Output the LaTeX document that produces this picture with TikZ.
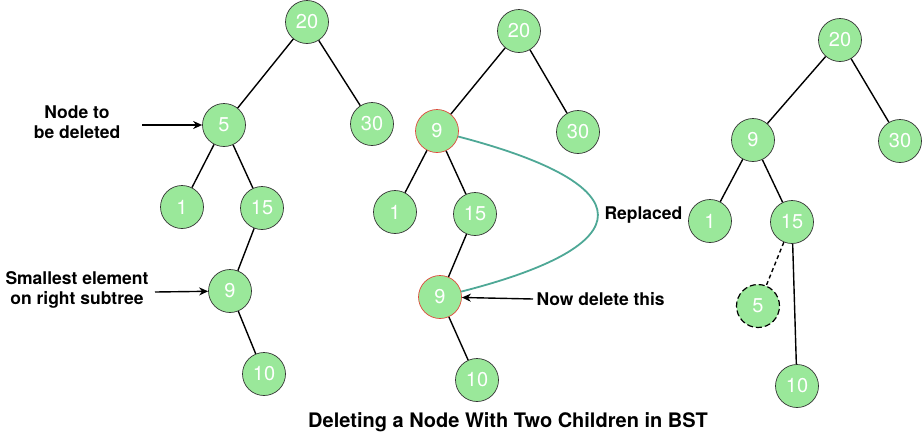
\documentclass[tikz,border=0pt]{standalone}
\usepackage{fontspec}
\setmainfont{TeX Gyre Heros}
\usepackage{tikz}
\definecolor{bstgreen}{RGB}{154,232,154}
\definecolor{bstred}{RGB}{222,72,58}
\definecolor{bstteal}{RGB}{78,168,150}
\tikzset{
    bstvertex/.style={circle, draw=black!80, fill=bstgreen, line width=0.7pt, minimum size=43pt, inner sep=0pt, text=white, font=\fontsize{20}{20}\selectfont},
    markedvertex/.style={bstvertex, draw=bstred},
    ghostvertex/.style={bstvertex, draw=black, dash pattern=on 6pt off 3pt, line width=1.2pt},
    bstedge/.style={line width=1.4pt},
    pointer/.style={line width=1.4pt, -{Stealth[length=9pt,width=8pt]}},
    bstlabel/.style={font=\fontsize{17.5}{20}\selectfont\bfseries, align=center}
}
\usetikzlibrary{arrows.meta,positioning,calc}

\begin{document}
\begin{tikzpicture}[x=1pt, y=-1pt]
    \useasboundingbox (0,0) rectangle (923,440);
    % first tree
    \node[bstvertex] (a20) at (307,22) {20};
    \node[bstvertex] (a5) at (224,125) {5};
    \node[bstvertex] (a30) at (372,124) {30};
    \node[bstvertex] (a1) at (182,207) {1};
    \node[bstvertex] (a15) at (262,208) {15};
    \node[bstvertex] (a9) at (230,291) {9};
    \node[bstvertex] (a10) at (264,374) {10};
    \draw[bstedge] (a20)--(a5)--(a1);
    \draw[bstedge] (a20)--(a30);
    \draw[bstedge] (a5)--(a15)--(a9)--(a10);
    \node[bstlabel] (lbdel) at (77,122) {Node to\\be deleted};
    \node[bstlabel] (lbmin) at (77,290) {Smallest element\\on right subtree};
    \draw[pointer] (142,125) -- (a5);
    \draw[pointer] (155,292) -- (a9);
    % second tree
    \node[bstvertex] (b20) at (519,31) {20};
    \node[markedvertex] (b9) at (437,131) {9};
    \node[bstvertex] (b30) at (578,132) {30};
    \node[bstvertex] (b1) at (395,212) {1};
    \node[bstvertex] (b15) at (475,214) {15};
    \node[markedvertex] (b9d) at (440,297) {9};
    \node[bstvertex] (b10) at (477,380) {10};
    \draw[bstedge] (b20)--(b9)--(b1);
    \draw[bstedge] (b20)--(b30);
    \draw[bstedge] (b9)--(b15)--(b9d)--(b10);
    \draw[bstteal, line width=1.8pt] (b9) .. controls (644,185) and (644,245) .. (b9d);
    \node[bstlabel, anchor=west] (lbrep) at (601,215) {Replaced};
    \node[bstlabel, anchor=west] (lbnow) at (533,299) {Now delete this};
    \draw[pointer] (lbnow.west) -- (b9d);
    % third tree
    \node[bstvertex] (c20) at (840,40) {20};
    \node[bstvertex] (c9) at (753,140) {9};
    \node[bstvertex] (c30) at (900,141) {30};
    \node[bstvertex] (c1) at (710,221) {1};
    \node[bstvertex] (c15) at (792,222) {15};
    \node[ghostvertex] (c5) at (758,306) {5};
    \node[bstvertex] (c10) at (797,386) {10};
    \draw[bstedge] (c20)--(c9)--(c1);
    \draw[bstedge] (c20)--(c30);
    \draw[bstedge] (c9)--(c15)--(c10);
    \draw[bstedge, dash pattern=on 4pt off 3pt] (c15)--(c5);
    % caption
    \node[font=\fontsize{20}{22}\selectfont\bfseries] (title) at (508,422) {Deleting a Node With Two Children in BST};
\end{tikzpicture}
\end{document}
